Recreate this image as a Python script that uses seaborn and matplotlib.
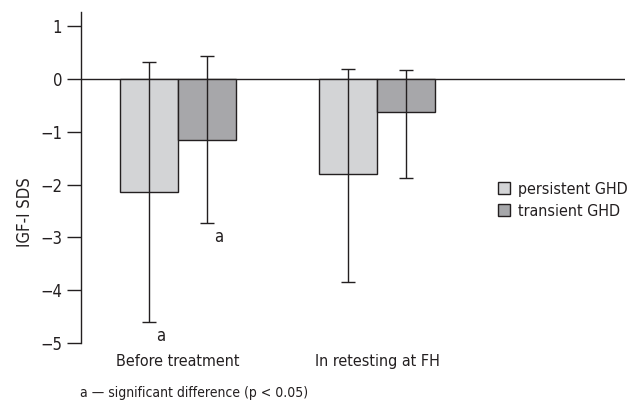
import numpy as np
import pandas as pd
import seaborn as sns
import matplotlib.pyplot as plt

# values
timepoints = ["Before treatment", "In retesting at FH"]
groups = ["persistent GHD", "transient GHD"]
mean_persistent = [-2.13, -1.80]
mean_transient = [-1.15, -0.63]
upper_persistent = [0.32, 0.19]
lower_persistent = [-4.60, -3.85]
upper_transient = [0.43, 0.17]
lower_transient = [-2.73, -1.88]
bar_colors = ["#d3d4d6", "#a6a7aa"]

sns.set_style("white")
plt.rcParams["font.family"] = ["DejaVu Sans"]
plt.rcParams["font.stretch"] = "condensed"
plt.rcParams["font.size"] = 11
ink = "#231f20"
plt.rcParams["text.color"] = ink
plt.rcParams["axes.labelcolor"] = ink
plt.rcParams["xtick.color"] = ink
plt.rcParams["ytick.color"] = ink

df = pd.DataFrame({
    "time": timepoints * 2,
    "group": [groups[0]] * 2 + [groups[1]] * 2,
    "sds": mean_persistent + mean_transient,
})

fig = plt.figure(figsize=(6.38, 4.03), dpi=100)
ax = fig.add_axes([0.127, 0.149, 0.853, 0.821])

sns.barplot(data=df, x="time", y="sds", hue="group", palette=bar_colors,
            width=0.58, errorbar=None, edgecolor=ink, linewidth=1.0,
            ax=ax, legend=False)

# asymmetric error bars from the bar centres
bar_conts = list(ax.containers)
uppers = [upper_persistent, upper_transient]
lowers = [lower_persistent, lower_transient]
means = [mean_persistent, mean_transient]
for gi, cont in enumerate(bar_conts):
    xs = [p.get_x() + p.get_width() / 2 for p in cont.patches]
    m = np.array(means[gi])
    yerr = [m - np.array(lowers[gi]), np.array(uppers[gi]) - m]
    ax.errorbar(xs, m, yerr=yerr, fmt="none", ecolor=ink,
                elinewidth=1.0, capsize=5, capthick=1.0)

# significance letters
p0 = bar_conts[0].patches[0]
p1 = bar_conts[1].patches[0]
ax.text(p0.get_x() + p0.get_width() / 2 + 0.06, lower_persistent[0] - 0.1, "a",
        ha="center", va="top", fontsize=12)
ax.text(p1.get_x() + p1.get_width() / 2 + 0.06, lower_transient[0] - 0.1, "a",
        ha="center", va="top", fontsize=12)

ax.axhline(0, color=ink, lw=1.0, zorder=0)
ax.set_xlim(-0.487, 2.246)
ax.set_ylim(-5, 1.27)
ax.set_yticks([1, 0, -1, -2, -3, -4, -5])
ax.tick_params(axis="y", direction="out", length=10, width=1.0, labelsize=12,
               color=ink, left=True)
ax.tick_params(axis="x", length=0, labelsize=11.5, pad=8)
for s in ["top", "right", "bottom"]:
    ax.spines[s].set_visible(False)
ax.spines["left"].set_color(ink)
ax.spines["left"].set_linewidth(1.0)
ax.set_xlabel("")
ax.set_ylabel("IGF-I SDS", fontsize=12)
ax.yaxis.set_label_coords(-0.086, 0.396)

handles = [plt.Rectangle((0, 0), 1, 1, facecolor=c, edgecolor=ink, lw=1.0)
           for c in bar_colors]
fig.legend(handles, groups, loc="upper left", bbox_to_anchor=(0.77, 0.565),
           frameon=False, handlelength=0.8, handleheight=0.8, handletextpad=0.5,
           labelspacing=0.45, fontsize=11.5, borderaxespad=0)

fig.text(0.125, 0.015, "a \u2014 significant difference (p < 0.05)", fontsize=10)

fig.savefig("out.png", dpi=100)
